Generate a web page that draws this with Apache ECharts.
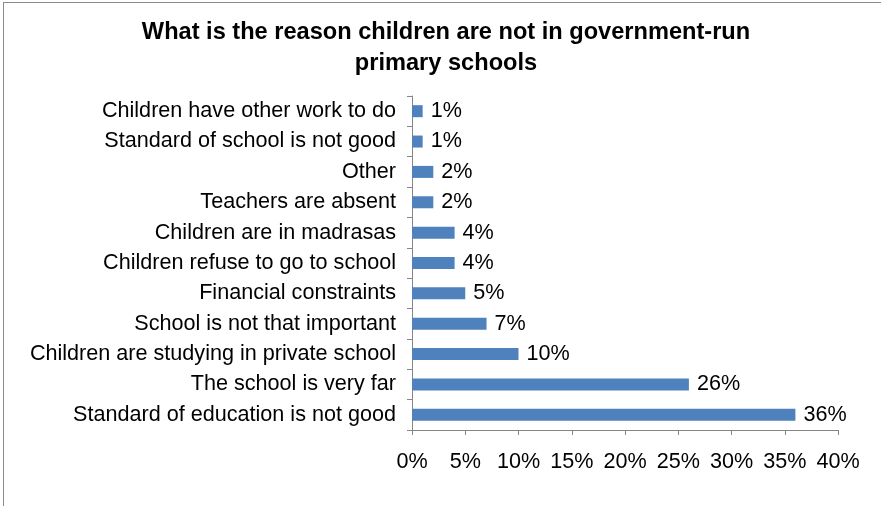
<!DOCTYPE html>
<html>
<head>
<meta charset="utf-8">
<script src="https://cdn.jsdelivr.net/npm/echarts@6/dist/echarts.min.js"></script>
<style>
  html, body { margin: 0; padding: 0; background: #fff; overflow: hidden; }
  #frame { position: absolute; left: 3px; top: 2px; width: 900px; height: 520px; border: 1px solid #8c8c8c; box-sizing: border-box; }
  #chart { position: absolute; left: 0; top: 0; width: 881px; height: 506px; }
</style>
</head>
<body>
<div id="frame"></div>
<div id="chart"></div>
<script>
// Reasons listed from top to bottom
const reasons = [
  'Children have other work to do',
  'Standard of school is not good',
  'Other',
  'Teachers are absent',
  'Children are in madrasas',
  'Children refuse to go to school',
  'Financial constraints',
  'School is not that important',
  'Children are studying in private school',
  'The school is very far',
  'Standard of education is not good'
];
const shares = [1, 1, 2, 2, 4, 4, 5, 7, 10, 26, 36];
const titleLines = ['What is the reason children are not in government-run', 'primary schools'];

const chart = echarts.init(document.getElementById('chart'), null, { renderer: 'canvas' });
const font = 'Liberation Sans, Arial, sans-serif';
const labelSize = 21.6;
chart.setOption({
  animation: false,
  title: {
    text: titleLines.join('\n'),
    left: 441,
    textAlign: 'center',
    top: 12,
    textStyle: { fontFamily: font, fontSize: 23.6, fontWeight: 'bold', color: '#000', lineHeight: 31 }
  },
  grid: { left: 412, right: 43, top: 96, bottom: 76, containLabel: false },
  xAxis: {
    type: 'value',
    min: 0, max: 40, interval: 5,
    axisLine: { show: true, lineStyle: { color: '#868686' } },
    axisTick: { show: true, length: 5, lineStyle: { color: '#868686' } },
    splitLine: { show: false },
    axisLabel: { formatter: '{value}%', fontFamily: font, fontSize: labelSize, color: '#000', margin: 21 }
  },
  yAxis: {
    type: 'category',
    inverse: true,
    data: reasons,
    axisLine: { show: true, lineStyle: { color: '#868686' } },
    axisTick: { show: true, length: 5, lineStyle: { color: '#868686' } },
    axisLabel: { fontFamily: font, fontSize: labelSize, color: '#000', margin: 16 }
  },
  series: [{
    type: 'bar',
    data: shares,
    barWidth: 12,
    itemStyle: { color: '#4F81BD' },
    label: { show: true, position: 'right', distance: 8, formatter: '{c}%', fontFamily: font, fontSize: labelSize, color: '#000' }
  }]
});
</script>
</body>
</html>
